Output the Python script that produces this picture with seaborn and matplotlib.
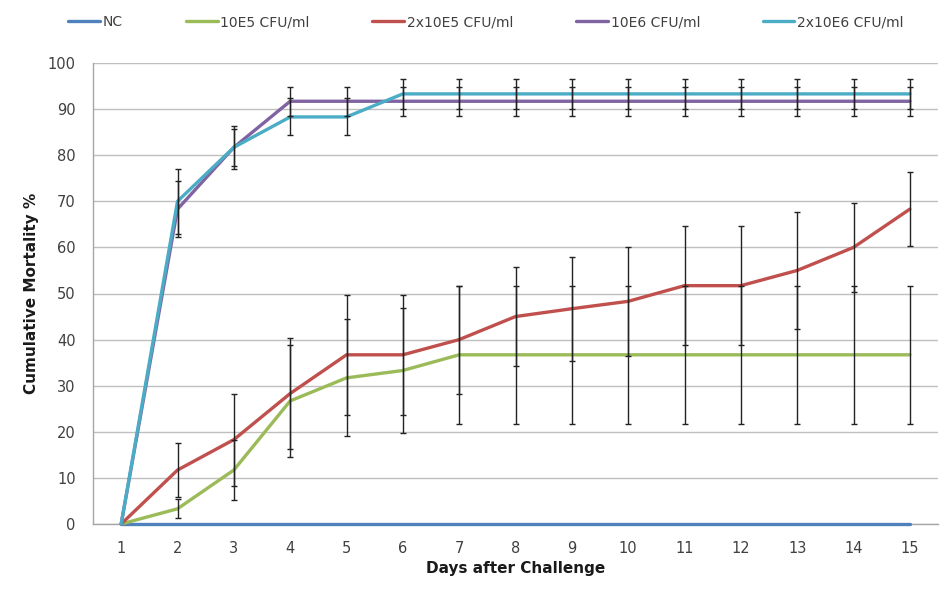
import matplotlib
matplotlib.use("Agg")
import matplotlib.pyplot as plt
from matplotlib.ticker import FixedLocator
import seaborn as sns
import pandas as pd
import numpy as np

days = list(range(1, 16))
series_names = ["NC", "10E5 CFU/ml", "2x10E5 CFU/ml", "10E6 CFU/ml", "2x10E6 CFU/ml"]
colors = ["#4F81BD", "#9BBB59", "#C0504D", "#8064A2", "#4BACC6"]

nc = [0] * 15
g10e5 = [0, 3.3, 11.7, 26.7, 31.7, 33.3, 36.7, 36.7, 36.7, 36.7, 36.7, 36.7, 36.7, 36.7, 36.7]
g2x10e5 = [0, 11.7, 18.3, 28.3, 36.7, 36.7, 40.0, 45.0, 46.7, 48.3, 51.7, 51.7, 55.0, 60.0, 68.3]
g10e6 = [0, 68.3, 81.7, 91.7, 91.7, 91.7, 91.7, 91.7, 91.7, 91.7, 91.7, 91.7, 91.7, 91.7, 91.7]
g2x10e6 = [0, 70.0, 81.7, 88.3, 88.3, 93.3, 93.3, 93.3, 93.3, 93.3, 93.3, 93.3, 93.3, 93.3, 93.3]

err_nc = [0] * 15
err_10e5 = [0, 2.1, 6.6, 12.2, 12.7, 13.5, 15.0, 15.0, 15.0, 15.0, 15.0, 15.0, 15.0, 15.0, 15.0]
err_2x10e5 = [0, 5.9, 10.0, 12.1, 13.0, 13.0, 11.7, 10.8, 11.3, 11.8, 12.9, 12.9, 12.6, 9.7, 8.0]
err_10e6 = [0, 6.0, 4.0, 3.2, 3.2, 3.2, 3.2, 3.2, 3.2, 3.2, 3.2, 3.2, 3.2, 3.2, 3.2]
err_2x10e6 = [0, 7.0, 4.6, 4.0, 4.0, 3.3, 3.3, 3.3, 3.3, 3.3, 3.3, 3.3, 3.3, 3.3, 3.3]

values = [nc, g10e5, g2x10e5, g10e6, g2x10e6]
errors = [err_nc, err_10e5, err_2x10e5, err_10e6, err_2x10e6]

y_ticks = list(range(0, 101, 10))

rows = []
for name, vals in zip(series_names, values):
    for d, v in zip(days, vals):
        rows.append({"Day": d, "Mortality": v, "Group": name})
df = pd.DataFrame(rows)

sns.set_style("white")
plt.rcParams["font.family"] = ["DejaVu Sans"]

fig = plt.figure(figsize=(9.41, 5.94), dpi=100)
ax = fig.add_axes([93 / 941, 1 - 524 / 594, 845 / 941, (524 - 63) / 594])

sns.lineplot(data=df, x="Day", y="Mortality", hue="Group", hue_order=series_names,
             palette=colors, linewidth=2.4, ax=ax, legend=False, clip_on=False, zorder=3)

for vals, errs in zip(values, errors):
    d_sel = [d for d, e in zip(days, errs) if e > 0]
    v_sel = [v for v, e in zip(vals, errs) if e > 0]
    e_sel = [e for e in errs if e > 0]
    if d_sel:
        ax.errorbar(d_sel, v_sel, yerr=e_sel, fmt="none", ecolor="#222222", elinewidth=1.0,
                    capsize=2.5, capthick=1.0, zorder=4)

ax.set_xlim(0.5, 15.5)
ax.set_ylim(0, 100)
ax.set_yticks(y_ticks)
ax.set_xticks(days)
ax.xaxis.set_minor_locator(FixedLocator(np.arange(0.5, 15.6, 1.0)))
ax.tick_params(axis="x", which="major", length=0, pad=12, labelsize=10.5, labelcolor="#404040")
ax.tick_params(axis="x", which="minor", length=4, color="#A6A6A6", width=1, direction="out")
ax.tick_params(axis="y", which="major", length=4.5, color="#A6A6A6", width=1, direction="out",
               labelsize=10.5, labelcolor="#404040", pad=8)
ax.yaxis.grid(True, color="#BFBFBF", linewidth=1.0)
ax.set_axisbelow(True)
for s in ["top", "right"]:
    ax.spines[s].set_visible(False)
for s in ["left", "bottom"]:
    ax.spines[s].set_color("#A6A6A6")
    ax.spines[s].set_linewidth(1.0)

ax.set_xlabel("Days after Challenge", fontsize=11, fontweight="bold", color="#1a1a1a", labelpad=4)
ax.set_ylabel("Cumulative Mortality %", fontsize=11, fontweight="bold", color="#1a1a1a", labelpad=6)

handles = [plt.Line2D([0], [0], color=c, linewidth=2.4) for c in colors]
fig.legend(handles, series_names, loc="center", bbox_to_anchor=(486 / 941, 1 - 22 / 594),
           ncol=5, frameon=False, fontsize=10, handlelength=2.3, handletextpad=0.2,
           columnspacing=4.5, labelcolor="#404040")

fig.savefig("out.png", dpi=100)
